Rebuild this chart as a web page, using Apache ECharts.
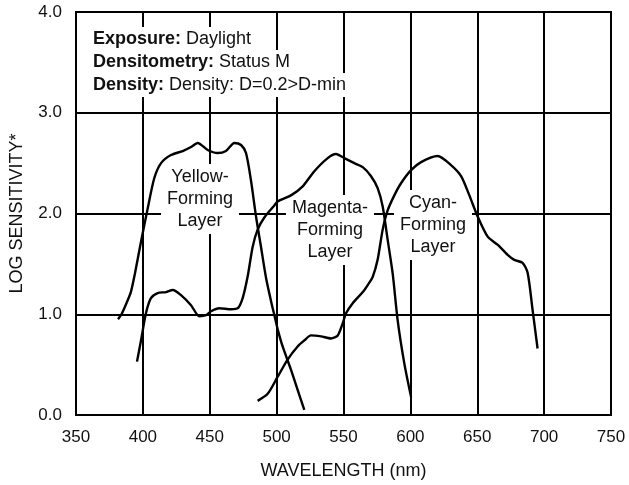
<!DOCTYPE html>
<html>
<head>
<meta charset="utf-8">
<script src="https://cdn.jsdelivr.net/npm/echarts@6/dist/echarts.min.js"></script>
<style>html,body{margin:0;padding:0;background:#fff;}#c{width:629px;height:485px;}</style>
</head>
<body>
<div id="c"></div>
<script>
// Wavelength (nm), log sensitivity pairs
var yellowLayer = [[381.4,0.95],[384,1.0],[387.4,1.1],[391,1.22],[394,1.4],[398.6,1.72],[403.6,2.05],[408.5,2.35],[413.6,2.5],[421,2.58],[429.8,2.62],[436,2.66],[441,2.70],[448.5,2.63],[455.9,2.60],[462.1,2.62],[468.4,2.70],[473.4,2.68],[477.1,2.60],[480.8,2.33],[484.6,1.97],[488.3,1.67],[492.1,1.36],[496,1.12],[498.5,0.98],[501,0.84],[504.5,0.68],[510.7,0.45],[515.7,0.25],[520.7,0.05]];
var magentaLayer = [[395.6,0.53],[398.6,0.74],[402.3,1.01],[406,1.16],[411,1.21],[417.3,1.22],[422.3,1.24],[428.5,1.19],[436,1.09],[442.2,0.98],[447.2,0.99],[451,1.03],[457.1,1.06],[466,1.05],[471,1.06],[474.6,1.16],[478.4,1.38],[482.1,1.67],[485.8,1.84],[490.8,1.96],[498.3,2.08],[500.8,2.12],[510.7,2.18],[519.5,2.27],[528.2,2.42],[538.2,2.55],[544.4,2.59],[550.6,2.55],[558.1,2.50],[564.4,2.46],[570.6,2.37],[575.6,2.25],[579.3,2.07],[583,1.74],[586.8,1.40],[590.5,0.94],[595.5,0.51],[600.5,0.18]];
var cyanLayer = [[485.8,0.14],[493.3,0.21],[500.8,0.38],[508.2,0.55],[515.7,0.68],[520.7,0.74],[525.7,0.79],[533.2,0.78],[540.7,0.76],[545.7,0.79],[549.4,0.91],[551.9,1.01],[556.9,1.11],[564.4,1.22],[568.1,1.29],[571.8,1.37],[575.5,1.54],[579.3,1.84],[583,2.03],[588,2.18],[593,2.30],[600.5,2.43],[608,2.51],[620.4,2.57],[630.4,2.48],[637.9,2.37],[644.1,2.18],[650.3,1.97],[657.8,1.77],[665.2,1.69],[672.7,1.59],[677.7,1.54],[683.9,1.51],[687.7,1.41],[691.4,1.04],[695.1,0.66]];
var layerLabels = ['Yellow-\nForming\nLayer', 'Magenta-\nForming\nLayer', 'Cyan-\nForming\nLayer'];
var infoLines = [['Exposure:', 'Daylight'], ['Densitometry:', 'Status M'], ['Density:', 'Density: D=0.2>D-min']];

var FONT = "'Liberation Sans', Arial, sans-serif";
var chart = echarts.init(document.getElementById('c'));

function lineSeries(data) {
  return { type: 'line', data: data, smooth: 0.25, showSymbol: false, symbol: 'none', z: 5,
    lineStyle: { color: '#000', width: 2.4 }, animation: false };
}

var labelPos = [[200, 199], [330, 230], [433, 225]];
var graphics = [];
layerLabels.forEach(function (t, i) {
  graphics.push({ type: 'text', x: labelPos[i][0], y: labelPos[i][1], z: 3,
    style: { text: t, font: '18px ' + FONT, fill: '#111', align: 'center', verticalAlign: 'middle',
      lineHeight: 22, backgroundColor: '#fff', padding: [2, 6] } });
});
infoLines.forEach(function (l, i) {
  graphics.push({ type: 'text', x: 90, y: 39 + i * 23, z: 3,
    style: { text: '{b|' + l[0] + '} ' + l[1], font: '18px ' + FONT, fill: '#111', align: 'left', verticalAlign: 'middle',
      backgroundColor: '#fff', padding: [3, 3],
      rich: { b: { fontWeight: 'bold', fontSize: 18, fontFamily: FONT, fill: '#111' } } } });
});

chart.setOption({
  animation: false,
  backgroundColor: '#fff',
  grid: { left: 75, right: 18, top: 12, bottom: 70, show: true, borderColor: '#000', borderWidth: 2, z: 0 },
  xAxis: {
    type: 'value', min: 350, max: 750, interval: 50,
    name: 'WAVELENGTH (nm)', nameLocation: 'middle', nameGap: 47,
    nameTextStyle: { fontSize: 18, fontFamily: FONT, color: '#111' },
    axisLine: { show: true, lineStyle: { color: '#000', width: 2 } },
    axisTick: { show: false },
    axisLabel: { fontSize: 17, fontFamily: FONT, color: '#111', margin: 14 },
    splitLine: { show: true, lineStyle: { color: '#000', width: 2 } }
  },
  yAxis: {
    type: 'value', min: 0, max: 4, interval: 1,
    name: 'LOG SENSITIVITY*', nameLocation: 'middle', nameGap: 50, nameRotate: 90,
    nameTextStyle: { fontSize: 18, fontFamily: FONT, color: '#111' },
    axisLine: { show: true, lineStyle: { color: '#000', width: 2 } },
    axisTick: { show: false },
    axisLabel: { fontSize: 17, fontFamily: FONT, color: '#111', margin: 14, formatter: function (v) { return v.toFixed(1); } },
    splitLine: { show: true, lineStyle: { color: '#000', width: 2 } }
  },
  series: [lineSeries(yellowLayer), lineSeries(magentaLayer), lineSeries(cyanLayer)],
  graphic: graphics
});
</script>
</body>
</html>
